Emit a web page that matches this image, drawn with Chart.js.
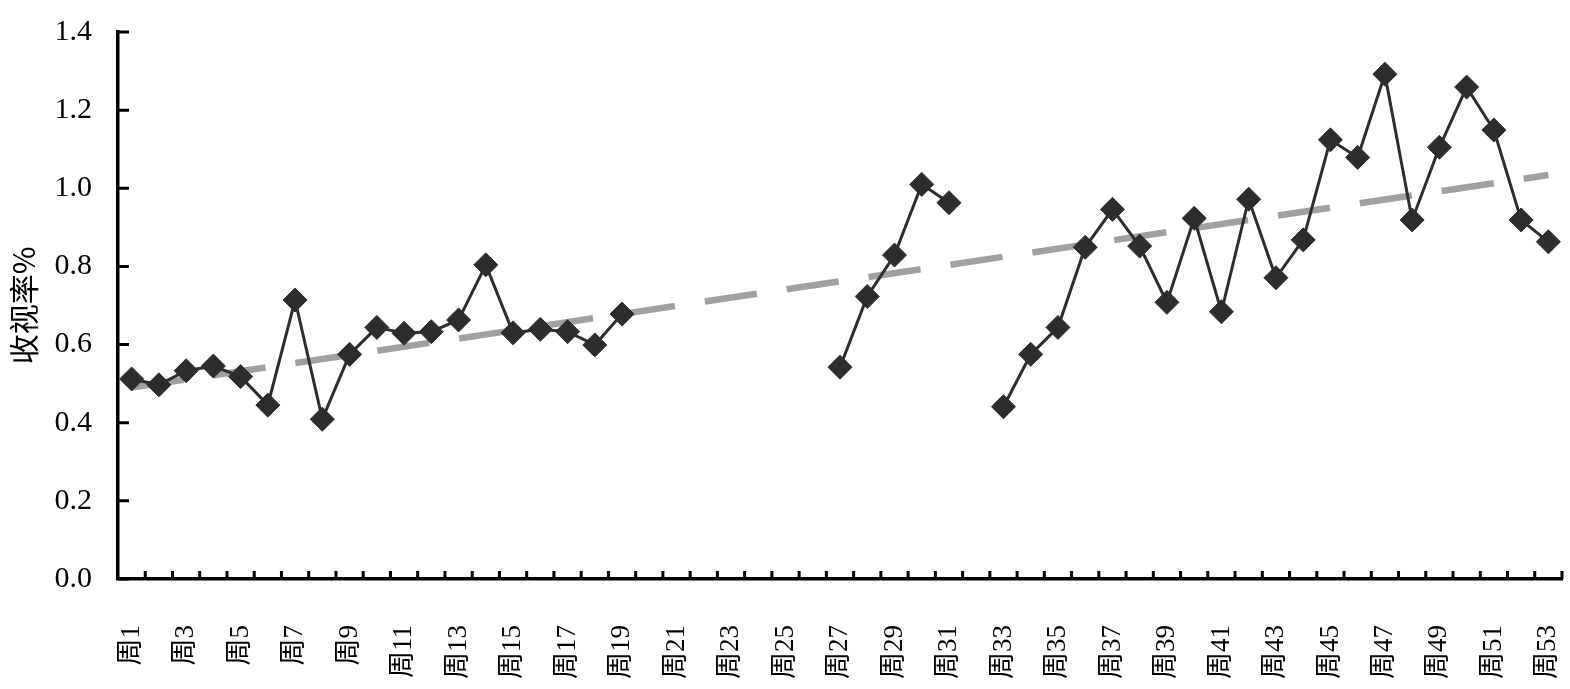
<!DOCTYPE html>
<html>
<head>
<meta charset="utf-8">
<script src="https://cdn.jsdelivr.net/npm/chart.js@4"></script>
<style>
  html, body { margin: 0; padding: 0; background: #fff; }
  #wrap { width: 1570px; height: 689px; }
</style>
</head>
<body>
<div id="wrap"><canvas id="ratingChart" width="1570" height="689"></canvas></div>
<script>
// 주별 라벨
var weeks = ['周1','周2','周3','周4','周5','周6','周7','周8','周9','周10',
	'周11','周12','周13','周14','周15','周16','周17','周18','周19','周20',
	'周21','周22','周23','周24','周25','周26','周27','周28','周29','周30',
	'周31','周32','周33','周34','周35','周36','周37','周38','周39','周40',
	'周41','周42','周43','周44','周45','周46','周47','周48','周49','周50',
	'周51','周52','周53'];

// 收视率 (null = 결측)
var ratings = [0.512, 0.497, 0.533, 0.545, 0.518, 0.445, 0.714, 0.409, 0.575, 0.644,
	0.629, 0.633, 0.663, 0.804, 0.630, 0.639, 0.633, 0.599, 0.678, null,
	null, null, null, null, null, null, 0.542, 0.723, 0.829, 1.010,
	0.963, null, 0.441, 0.575, 0.644, 0.849, 0.946, 0.852, 0.708, 0.923,
	0.684, 0.972, 0.771, 0.868, 1.124, 1.079, 1.292, 0.919, 1.105, 1.259,
	1.149, 0.919, 0.863];

// 추세선 시작/끝 값 (周1, 周53)
var trendEnds = [0.49, 1.034];

var yTicks = [0, 0.2, 0.4, 0.6, 0.8, 1.0, 1.2, 1.4];

var trendData = weeks.map(function(w, i) {
	if (i === 0) return trendEnds[0];
	if (i === weeks.length - 1) return trendEnds[1];
	return null;
});

// 안쪽으로 향하는 눈금
var innerTicks = {
	id: 'innerTicks',
	afterDraw: function(chart) {
		var ctx = chart.ctx;
		var x = chart.scales.x, y = chart.scales.y;
		ctx.save();
		ctx.strokeStyle = '#000';
		ctx.lineWidth = 3;
		ctx.beginPath();
		yTicks.forEach(function(v) {
			var py = y.getPixelForValue(v);
			ctx.moveTo(x.left, py);
			ctx.lineTo(x.left + 11, py);
		});
		for (var i = 1; i <= weeks.length; i++) {
			var px = x.getPixelForValue(i - 0.5);
			ctx.moveTo(px, y.bottom);
			ctx.lineTo(px, y.bottom - 8);
		}
		ctx.stroke();
		ctx.restore();
	}
};

var ctx = document.getElementById('ratingChart').getContext('2d');
var myChart = new Chart(ctx, {
	type: 'line',
	data: {
		labels: weeks,
		datasets: [{
			data: ratings,
			borderColor: '#2d2d2d',
			backgroundColor: '#2d2d2d',
			borderWidth: 3,
			pointStyle: 'rectRot',
			pointRadius: 12,
			pointBorderWidth: 1,
			spanGaps: false,
			order: 0
		}, {
			data: trendData,
			borderColor: '#a0a0a0',
			borderWidth: 6.5,
			borderDash: [52.6, 30.2],
			borderCapStyle: 'butt',
			pointRadius: 0,
			spanGaps: true,
			order: 1
		}]
	},
	options: {
		responsive: false,
		animation: false,
		devicePixelRatio: 1,
		layout: { autoPadding: false, padding: { top: 32, right: 8, left: 0, bottom: 0 } },
		plugins: {
			legend: { display: false },
			tooltip: { enabled: false }
		},
		scales: {
			x: {
				offset: true,
				grid: { display: false, offset: true },
				border: { display: true, color: '#000', width: 3.5 },
				afterFit: function(scale) {
					scale.height = 110;
					scale.paddingLeft = 0;
					scale.paddingRight = 0;
				},
				ticks: {
					autoSkip: false,
					maxRotation: 90,
					minRotation: 90,
					padding: 38,
					color: '#000',
					font: { family: "'Liberation Serif', 'Noto Sans CJK SC', serif", size: 27 },
					callback: function(value, index) {
						return index % 2 === 0 ? weeks[index] : '';
					}
				}
			},
			y: {
				min: 0,
				max: 1.4,
				grid: { display: false },
				border: { display: true, color: '#000', width: 3.5 },
				afterFit: function(scale) {
					scale.width = 118;
					scale.paddingTop = 0;
					scale.paddingBottom = 0;
				},
				ticks: {
					stepSize: 0.2,
					padding: 18,
					color: '#000',
					font: { family: "'Liberation Serif', serif", size: 30 },
					callback: function(value) { return value.toFixed(1); }
				},
				title: {
					display: true,
					text: '收视率%',
					color: '#000',
					padding: { top: 6, bottom: 0 },
					font: { family: "'Noto Sans CJK SC', serif", size: 30, weight: 'normal' }
				}
			}
		}
	},
	plugins: [innerTicks]
});
</script>
</body>
</html>
